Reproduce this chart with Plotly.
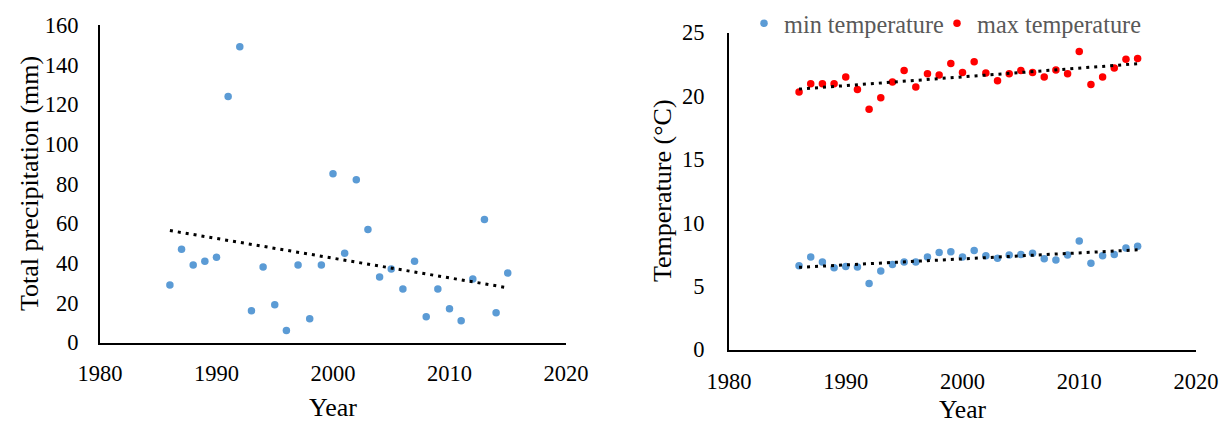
import numpy as np
import plotly.graph_objects as go

# ---------------- data ----------------
years = list(range(1986, 2016))
precip = [29, 47, 39, 41, 43, 124, 149, 16, 38, 19, 6, 39, 12, 39, 85,
          45, 82, 57, 33, 37, 27, 41, 13, 27, 17, 11, 32, 62, 15, 35]
tmin = [6.6, 7.3, 6.9, 6.45, 6.55, 6.5, 5.2, 6.2, 6.7, 6.9, 6.9, 7.3, 7.65, 7.7, 7.3,
        7.8, 7.4, 7.2, 7.45, 7.5, 7.6, 7.15, 7.05, 7.45, 8.55, 6.8, 7.4, 7.5, 8.0, 8.15]
tmax = [20.3, 20.95, 20.95, 20.95, 21.5, 20.5, 18.95, 19.85, 21.1, 22.0, 20.7, 21.75, 21.65, 22.55, 21.85,
        22.7, 21.8, 21.2, 21.75, 22.0, 21.85, 21.5, 22.05, 21.75, 23.5, 20.9, 21.5, 22.2, 22.9, 22.95]
x_ticks = [1980, 1990, 2000, 2010, 2020]

BLUE = "#5B9BD5"
RED = "#FF0000"
FONT = "Liberation Serif, Times New Roman, serif"

W, H = 1220, 423


def trend(xs, ys):
    k, b = np.polyfit(xs, ys, 1)
    xs = np.array([xs[0], xs[-1]], dtype=float)
    return xs, k * xs + b


DOTS = dict(color="black", width=3, dash="3px,5px")

fig = go.Figure()

# left: precipitation
fig.add_trace(go.Scatter(x=years, y=precip, mode="markers", xaxis="x", yaxis="y",
                         marker=dict(color=BLUE, size=7.5), showlegend=False))
tx, ty = trend(years, precip)
fig.add_trace(go.Scatter(x=tx, y=ty, mode="lines", xaxis="x", yaxis="y",
                         line=DOTS, showlegend=False))

# right: temperature
fig.add_trace(go.Scatter(x=years, y=tmin, mode="markers", xaxis="x2", yaxis="y2",
                         marker=dict(color=BLUE, size=7.5), name="min temperature",
                         legend="legend"))
fig.add_trace(go.Scatter(x=years, y=tmax, mode="markers", xaxis="x2", yaxis="y2",
                         marker=dict(color=RED, size=7.5), name="max temperature",
                         legend="legend2"))
tx, ty = trend(years, tmin)
fig.add_trace(go.Scatter(x=tx, y=ty, mode="lines", xaxis="x2", yaxis="y2",
                         line=DOTS, showlegend=False))
tx, ty = trend(years, tmax)
fig.add_trace(go.Scatter(x=tx, y=ty, mode="lines", xaxis="x2", yaxis="y2",
                         line=DOTS, showlegend=False))

tickfont = dict(family=FONT, size=22.5, color="black")
common_x = dict(range=[1980, 2020], tickvals=x_ticks, showgrid=False, zeroline=False,
                showline=True, linecolor="black", linewidth=2, ticks="outside",
                tickcolor="rgba(0,0,0,0)", tickfont=tickfont)
common_y = dict(showgrid=False, zeroline=False, showline=True, linecolor="black",
                linewidth=2, ticks="outside", tickcolor="rgba(0,0,0,0)",
                tickfont=tickfont)

TITLE_FONT = dict(family=FONT, size=26, color="black")
LEG = dict(orientation="h", xanchor="left", yanchor="top", y=1 - 1 / H,
           font=dict(family=FONT, size=24.3, color="#595959"),
           bgcolor="rgba(0,0,0,0)")

fig.update_layout(
    width=W, height=H,
    margin=dict(l=0, r=0, t=0, b=0, autoexpand=False),
    paper_bgcolor="white", plot_bgcolor="white",
    font=dict(family=FONT, color="black"),
    xaxis=dict(common_x, domain=[100 / W, 566 / W], anchor="y", ticklen=9),
    yaxis=dict(common_y, domain=[1 - 342.5 / H, 1 - 25 / H], anchor="x",
               range=[0, 160], dtick=20, ticklen=15),
    xaxis2=dict(common_x, domain=[729 / W, 1196 / W], anchor="y2", ticklen=10),
    yaxis2=dict(common_y, domain=[1 - 349.5 / H, 1 - 32.5 / H], anchor="x2",
                range=[0, 25], dtick=5, ticklen=18),
    legend=dict(LEG, x=744 / W),
    legend2=dict(LEG, x=937 / W),
    annotations=[
        dict(text="Total precipitation (mm)", xref="paper", yref="paper", x=30 / W, y=1 - 184 / H,
             textangle=-90, showarrow=False, font=TITLE_FONT,
             xanchor="center", yanchor="middle"),
        dict(text="Year", xref="paper", yref="paper", x=333 / W, y=1 - 407 / H,
             showarrow=False, font=TITLE_FONT, xanchor="center", yanchor="middle"),
        dict(text="Temperature (°C)", xref="paper", yref="paper", x=662 / W, y=1 - 191 / H,
             textangle=-90, showarrow=False, font=TITLE_FONT,
             xanchor="center", yanchor="middle"),
        dict(text="Year", xref="paper", yref="paper", x=962.5 / W, y=1 - 409 / H,
             showarrow=False, font=dict(TITLE_FONT, size=25.5), xanchor="center", yanchor="middle"),
    ],
)

fig.write_html("out.html")
